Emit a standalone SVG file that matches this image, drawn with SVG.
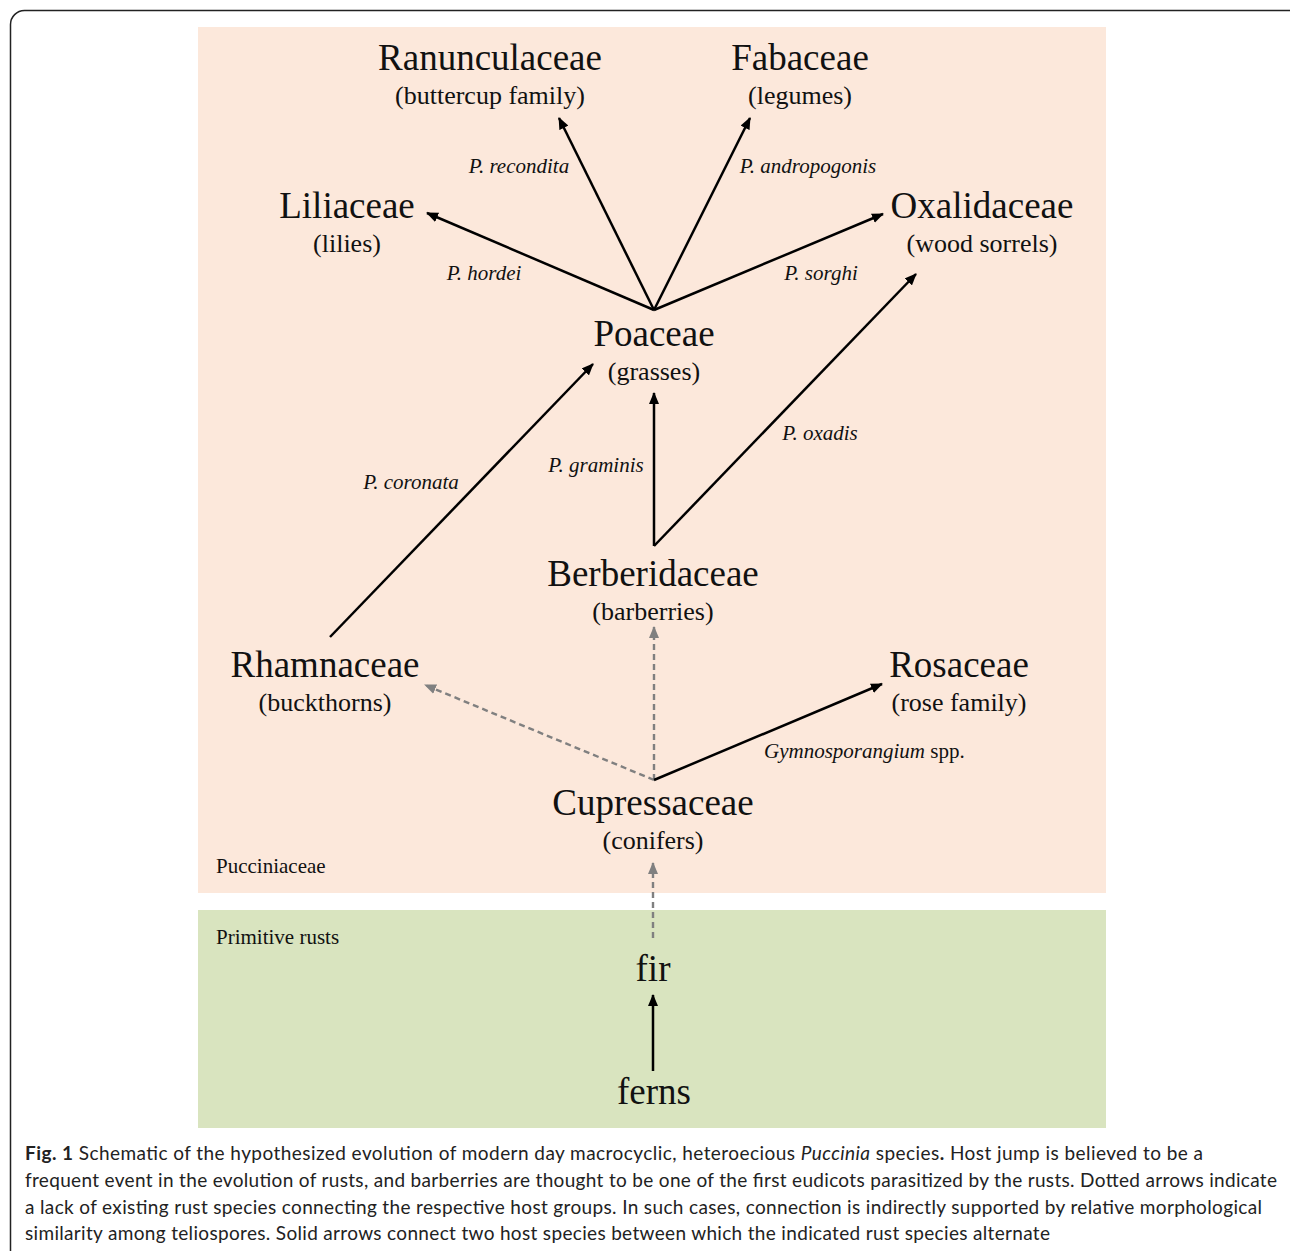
<svg xmlns="http://www.w3.org/2000/svg" width="1290" height="1251" viewBox="0 0 1290 1251">
<defs>
<marker id="ah" viewBox="0 0 12 10" refX="11" refY="5" markerWidth="12" markerHeight="10" markerUnits="userSpaceOnUse" orient="auto">
<path d="M0,0 L12,5 L0,10 Z" fill="#000"/>
</marker>
<marker id="ahg" viewBox="0 0 12 10" refX="11" refY="5" markerWidth="12" markerHeight="10" markerUnits="userSpaceOnUse" orient="auto">
<path d="M0,0 L12,5 L0,10 Z" fill="#808080"/>
</marker>
</defs>
<style>
.t{font-family:"Liberation Serif","Times New Roman",serif;fill:#111;text-anchor:middle}
.title{font-size:37px}
.sub{font-size:26px}
.lab{font-family:"Liberation Serif","Times New Roman",serif;font-size:21px;font-style:italic;fill:#111}
.reg{font-family:"Liberation Serif","Times New Roman",serif;font-size:21px;fill:#111}
.solid{stroke:#000;stroke-width:2.5;fill:none;marker-end:url(#ah)}
.dash{stroke:#808080;stroke-width:2.4;fill:none;stroke-dasharray:6 4;marker-end:url(#ahg)}
.cap{font-family:Lato,"Open Sans",sans-serif;font-size:19px;fill:#222}
</style>
<rect x="0" y="0" width="1290" height="1251" fill="#fff"/>
<rect x="10.5" y="10.5" width="1292" height="1270" rx="14" fill="none" stroke="#222" stroke-width="1.5"/>
<rect id="pucciniaceae" x="198" y="27" width="908" height="866" fill="#fce8db"/>
<rect id="primitive" x="198" y="910" width="908" height="218" fill="#d9e4bf"/>
<text class="reg" x="216" y="873">Pucciniaceae</text>
<text class="reg" x="216" y="944">Primitive rusts</text>

<g id="connectors">
<line class="solid" x1="654" y1="310" x2="559" y2="118"/>
<line class="solid" x1="654" y1="310" x2="750" y2="118"/>
<line class="solid" x1="654" y1="310" x2="427" y2="213"/>
<line class="solid" x1="654" y1="310" x2="883" y2="214"/>
<line class="solid" x1="654" y1="546" x2="654" y2="393"/>
<line class="solid" x1="654" y1="546" x2="916" y2="274"/>
<line class="solid" x1="330" y1="637" x2="593" y2="364"/>
<line class="dash" x1="654" y1="780" x2="425" y2="685"/>
<line class="dash" x1="654" y1="780" x2="654" y2="627"/>
<line class="solid" x1="654" y1="780" x2="882" y2="684"/>
<line class="dash" x1="653" y1="938" x2="653" y2="863"/>
<line class="solid" x1="653" y1="1071" x2="653" y2="995"/>
<text class="lab" x="519" y="173" text-anchor="middle">P. recondita</text>
<text class="lab" x="808" y="173" text-anchor="middle">P. andropogonis</text>
<text class="lab" x="484" y="280" text-anchor="middle">P. hordei</text>
<text class="lab" x="821" y="280" text-anchor="middle">P. sorghi</text>
<text class="lab" x="820" y="440" text-anchor="middle">P. oxadis</text>
<text class="lab" x="596" y="472" text-anchor="middle">P. graminis</text>
<text class="lab" x="411" y="489" text-anchor="middle">P. coronata</text>
<text class="reg" x="764" y="758"><tspan font-style="italic">Gymnosporangium</tspan> spp.</text>
</g>

<g id="ranunculaceae"><text class="t title" x="490" y="70">Ranunculaceae</text><text class="t sub" x="490" y="104">(buttercup family)</text></g>
<g id="fabaceae"><text class="t title" x="800" y="70">Fabaceae</text><text class="t sub" x="800" y="104">(legumes)</text></g>
<g id="liliaceae"><text class="t title" x="347" y="218">Liliaceae</text><text class="t sub" x="347" y="252">(lilies)</text></g>
<g id="oxalidaceae"><text class="t title" x="982" y="218">Oxalidaceae</text><text class="t sub" x="982" y="252">(wood sorrels)</text></g>
<g id="poaceae"><text class="t title" x="654" y="346">Poaceae</text><text class="t sub" x="654" y="380">(grasses)</text></g>
<g id="berberidaceae"><text class="t title" x="653" y="586">Berberidaceae</text><text class="t sub" x="653" y="620">(barberries)</text></g>
<g id="rhamnaceae"><text class="t title" x="325" y="677">Rhamnaceae</text><text class="t sub" x="325" y="711">(buckthorns)</text></g>
<g id="rosaceae"><text class="t title" x="959" y="677">Rosaceae</text><text class="t sub" x="959" y="711">(rose family)</text></g>
<g id="cupressaceae"><text class="t title" x="653" y="815">Cupressaceae</text><text class="t sub" x="653" y="849">(conifers)</text></g>
<g id="fir"><text class="t title" x="653" y="981">fir</text></g>
<g id="ferns"><text class="t title" x="654" y="1104">ferns</text></g>

<g id="caption">
<text class="cap" x="25" y="1160" textLength="1178" lengthAdjust="spacing"><tspan font-weight="bold">Fig. 1</tspan> Schematic of the hypothesized evolution of modern day macrocyclic, heteroecious <tspan font-style="italic">Puccinia</tspan> species<tspan font-weight="bold">.</tspan> Host jump is believed to be a</text>
<text class="cap" x="25" y="1187" textLength="1252" lengthAdjust="spacing">frequent event in the evolution of rusts, and barberries are thought to be one of the first eudicots parasitized by the rusts. Dotted arrows indicate</text>
<text class="cap" x="25" y="1214" textLength="1237" lengthAdjust="spacing">a lack of existing rust species connecting the respective host groups. In such cases, connection is indirectly supported by relative morphological</text>
<text class="cap" x="25" y="1240" textLength="1025" lengthAdjust="spacing">similarity among teliospores. Solid arrows connect two host species between which the indicated rust species alternate</text>
</g>
</svg>
